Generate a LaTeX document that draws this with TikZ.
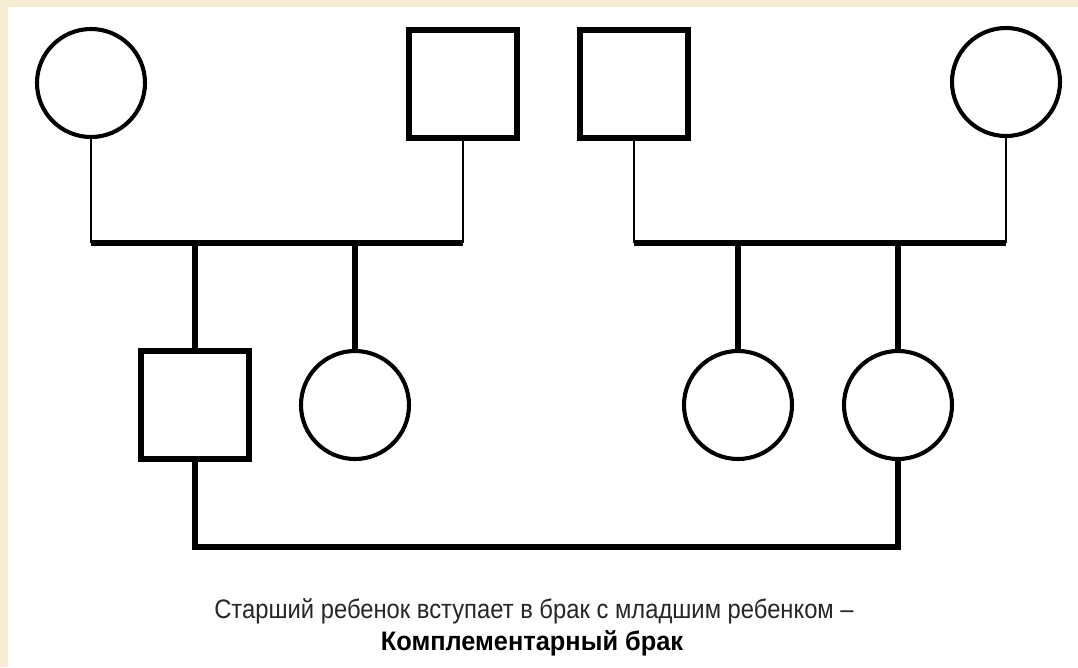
\documentclass[tikz,border=0pt]{standalone}
\usepackage{fontspec}
\setmainfont{Liberation Sans}
\definecolor{cream}{RGB}{246,236,212}

\begin{document}
\begin{tikzpicture}[x=0.025cm, y=-0.025cm,
        female/.style={circle, draw, line width=2.9pt, minimum size=108*0.025cm, inner sep=0pt},
        male/.style={rectangle, draw, line width=4pt, minimum size=108*0.025cm, inner sep=0pt},
        thinline/.style={line width=1.9pt},
        thickline/.style={line width=4.6pt}]
            \useasboundingbox (0,0) rectangle (1078,667);
            \fill[cream] (0,0) rectangle (1078,667);
            \fill[white] (8,7) rectangle (1078,667);

            % parents
            \node[female] (mother1) at (91,83) {};
            \node[male] (father1) at (463,84) {};
            \node[male] (father2) at (634,84) {};
            \node[female] (mother2) at (1006,82) {};

            % children
            \node[male] (son) at (195,405) {};
            \node[female] (daughter1) at (355,405) {};
            \node[female] (daughter2) at (738,405) {};
            \node[female] (daughter3) at (898,405) {};

            \coordinate (bar1a) at (91,243);
            \coordinate (bar1b) at (463,243);
            \coordinate (bar2a) at (634,243);
            \coordinate (bar2b) at (1006,243);
            \coordinate (low) at (0,547);

            \draw[thinline] (mother1) -- (bar1a);
            \draw[thinline] (father1) -- (bar1b);
            \draw[thickline] (bar1a) -- (bar1b);
            \draw[thinline] (father2) -- (bar2a);
            \draw[thinline] (mother2) -- (bar2b);
            \draw[thickline] (bar2a) -- (bar2b);

            \draw[thickline] (son |- bar1a) -- (son);
            \draw[thickline] (daughter1 |- bar1a) -- (daughter1);
            \draw[thickline] (daughter2 |- bar2a) -- (daughter2);
            \draw[thickline] (daughter3 |- bar2a) -- (daughter3);

            \draw[thickline] (son) -- (son |- low) -- (daughter3 |- low) -- (daughter3);

            \node[font=\fontsize{19}{22}\selectfont, text=black!85, anchor=base] (caption) at (534,618)
                {\scalebox{0.89}[1]{Старший ребенок вступает в брак с младшим ребенком –}};
            \node[font=\fontsize{19}{22}\selectfont\bfseries, anchor=base] (kind) at (532,650)
                {\scalebox{0.95}[1]{Комплементарный брак}};
\end{tikzpicture}
\end{document}
